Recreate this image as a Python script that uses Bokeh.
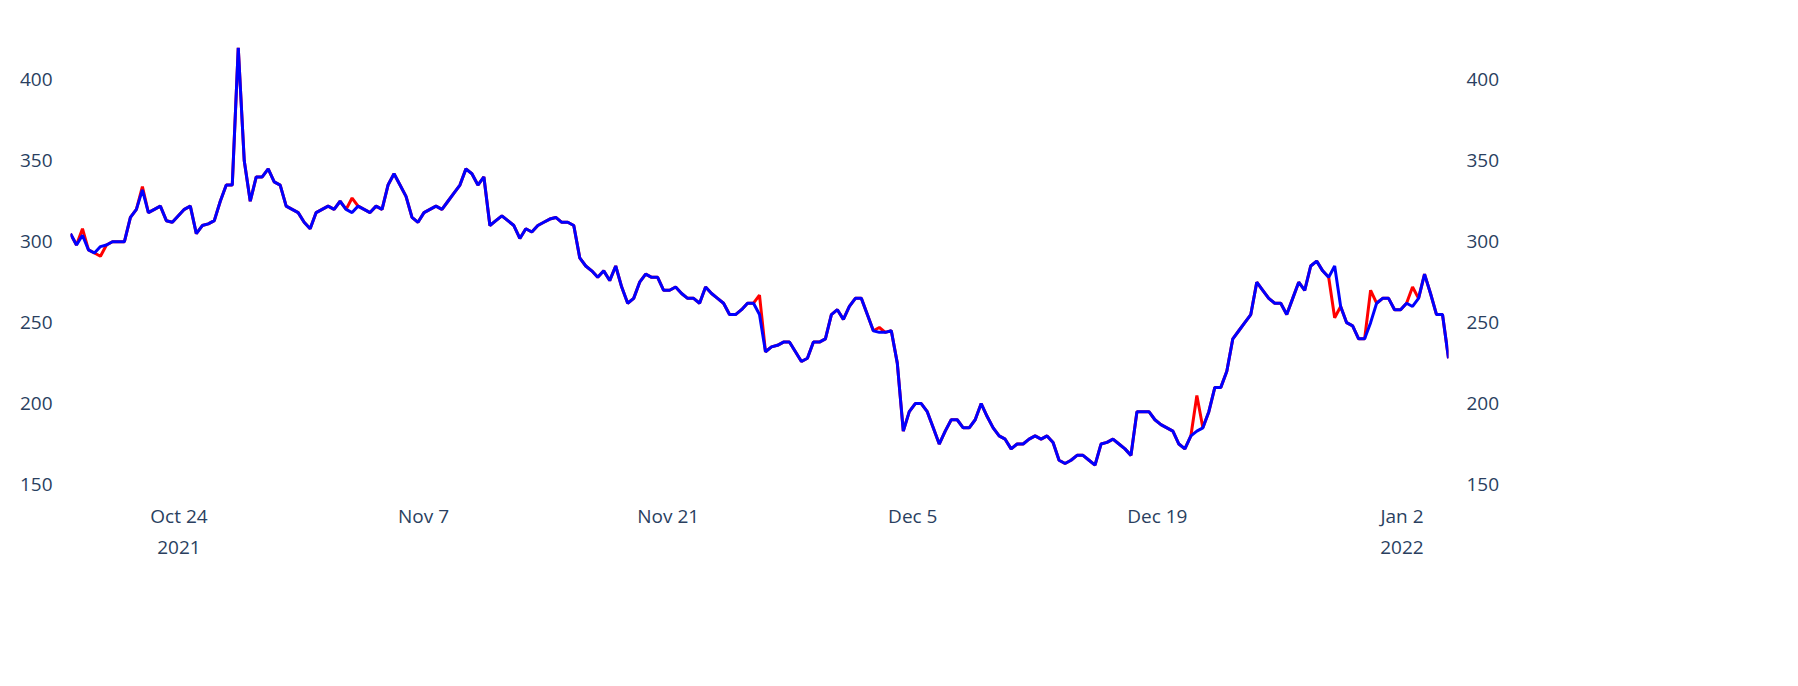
from datetime import datetime, timedelta
from bokeh.plotting import figure
from bokeh.models import LinearAxis, Range1d, FixedTicker
from bokeh.embed import file_html
from bokeh.resources import INLINE

# series values, one every ~8.2 hours
blue = [305, 298, 304, 295, 293, 297, 298, 300, 300, 300, 315, 320, 332, 318, 320, 322,
        313, 312, 316, 320, 322, 305, 310, 311, 313, 325, 335, 335, 420, 350, 325, 340,
        340, 345, 337, 335, 322, 320, 318, 312, 308, 318, 320, 322, 320, 325, 320, 318,
        322, 320, 318, 322, 320, 335, 342, 335, 328, 315, 312, 318, 320, 322, 320, 325,
        330, 335, 345, 342, 335, 340, 310, 313, 316, 313, 310, 302, 308, 306, 310, 312,
        314, 315, 312, 312, 310, 290, 285, 282, 278, 282, 276, 285, 272, 262, 265, 275,
        280, 278, 278, 270, 270, 272, 268, 265, 265, 262, 272, 268, 265, 262, 255, 255,
        258, 262, 262, 255, 232, 235, 236, 238, 238, 232, 226, 228, 238, 238, 240, 255,
        258, 252, 260, 265, 265, 255, 245, 244, 244, 245, 225, 183, 195, 200, 200, 195,
        185, 175, 183, 190, 190, 185, 185, 190, 200, 192, 185, 180, 178, 172, 175, 175,
        178, 180, 178, 180, 176, 165, 163, 165, 168, 168, 165, 162, 175, 176, 178, 175,
        172, 168, 195, 195, 195, 190, 187, 185, 183, 175, 172, 180, 183, 185, 195, 210,
        210, 220, 240, 245, 250, 255, 275, 270, 265, 262, 262, 255, 265, 275, 270, 285,
        288, 282, 278, 285, 260, 250, 248, 240, 240, 250, 262, 265, 265, 258, 258, 262,
        260, 265, 280, 268, 255, 255, 228]

# points where the red series differs from the blue one: (index, value)
red_diff = [(2, 308), (5, 291), (12, 334), (47, 327), (115, 267), (188, 205),
            (211, 253), (217, 270), (224, 272), (135, 247)]

x_ticks = ["2021-10-24", "2021-11-07", "2021-11-21", "2021-12-05", "2021-12-19", "2022-01-02"]
x_labels = ["Oct 24\n2021", "Nov 7", "Nov 21", "Dec 5", "Dec 19", "Jan 2\n2022"]
y_ticks = [150, 200, 250, 300, 350, 400]

start = datetime(2021, 10, 17, 19, 0)
step = timedelta(hours=8.23)
dates = [start + i * step for i in range(len(blue))]
red = list(blue)
for i, v in red_diff:
    red[i] = v

tick_ms = [datetime.fromisoformat(d).timestamp() * 1000 for d in x_ticks]

p = figure(width=1782, height=670, x_axis_type="datetime", output_backend="svg",
           toolbar_location=None, y_range=Range1d(150, 420),
           x_range=Range1d(dates[0], dates[-1]),
           min_border_left=70, min_border_right=334, min_border_top=47, min_border_bottom=186)
p.outline_line_color = None
p.xgrid.visible = False
p.ygrid.visible = False

p.line(dates, red, color="red", line_width=3)
p.line(dates, blue, color="blue", line_width=3)

p.extra_y_ranges = {"right": Range1d(150, 420)}
p.add_layout(LinearAxis(y_range_name="right"), "right")

for ax in p.yaxis:
    ax.ticker = FixedTicker(ticks=y_ticks)
for ax in p.xaxis:
    ax.ticker = FixedTicker(ticks=tick_ms)
    ax.major_label_overrides = {t: l for t, l in zip(tick_ms, x_labels)}
for ax in p.axis:
    ax.axis_line_color = None
    ax.major_tick_line_color = None
    ax.minor_tick_line_color = None
    ax.major_label_text_font = "Open Sans"
    ax.major_label_text_font_size = "19px"
    ax.major_label_text_color = "#2a3f5f"
    ax.major_label_standoff = 12

open("out.html", "w").write(file_html(p, INLINE))
